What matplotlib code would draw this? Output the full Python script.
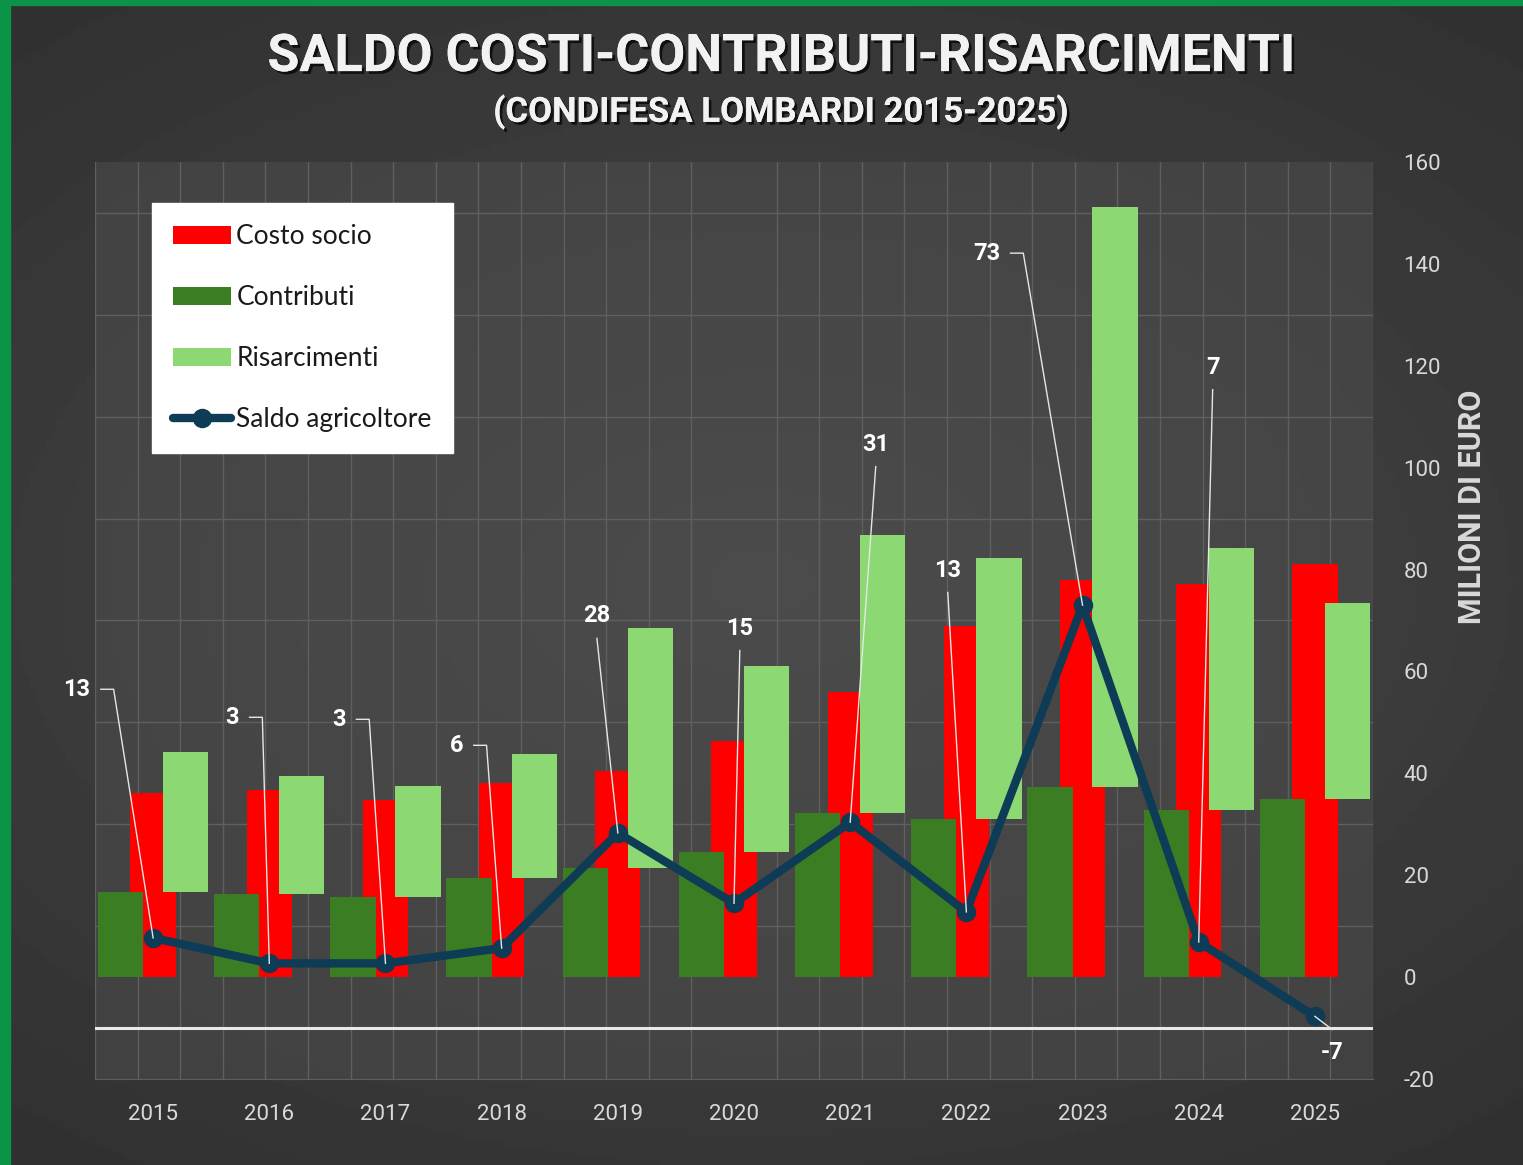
import numpy as np
import matplotlib.pyplot as plt
import matplotlib.patheffects as pe
from matplotlib.patches import Rectangle

# Dati (milioni di euro)
anni = ['2015', '2016', '2017', '2018', '2019', '2020', '2021', '2022', '2023', '2024', '2025']
costo_socio = [36.1, 36.7, 34.7, 38.1, 40.4, 46.3, 55.9, 68.9, 77.9, 77.2, 81.1]
contributi = [16.7, 16.3, 15.7, 19.4, 21.4, 24.5, 32.2, 31.0, 37.3, 32.8, 34.9]
risarcimenti = [27.5, 23.2, 21.8, 24.4, 47.1, 36.6, 54.6, 51.3, 113.9, 51.4, 38.5]
saldo = [7.7, 2.7, 2.7, 5.7, 28.3, 14.5, 30.4, 12.8, 73.0, 6.9, -7.7]
etichette_saldo = ['13', '3', '3', '6', '28', '15', '31', '13', '73', '7', '-7']

# posizione delle etichette (layout): (x, y) del testo e tipo di richiamo
pos_etichette = [(-0.54, 56.5), (0.74, 51.0), (1.66, 50.6), (2.67, 45.5), (3.82, 70.9),
                 (5.05, 68.5), (6.22, 104.6), (6.84, 79.9), (7.29, 142.1), (9.12, 119.7),
                 (10.15, -14.7)]
uncino = [True, True, True, True, False, False, False, False, True, False, False]

ROSSO = '#ff0000'
VERDE_SCURO = '#3a7d22'
VERDE_CHIARO = '#8cd872'
BLU = '#0e3b55'
TESTO = '#d9d9d9'

plt.rcParams['font.family'] = ['Roboto', 'DejaVu Sans']
plt.rcParams['axes.unicode_minus'] = False

fig = plt.figure(figsize=(15.23, 11.65), dpi=100)

# sfondo sfumato
bg = fig.add_axes([0, 0, 1, 1], zorder=-10)
yy, xx = np.mgrid[-1:1:300j, -1:1:300j]
r = np.sqrt((xx * 0.9) ** 2 + (yy * 1.1) ** 2)
grad = 0.29 - 0.10 * np.clip(r, 0, 1.4) / 1.4
bg.imshow(grad, cmap='gray', vmin=0, vmax=1, aspect='auto', extent=[0, 1, 0, 1])
bg.set_axis_off()

# bordo verde
fig.patches.append(Rectangle((0, 0), 0.0066, 1, transform=fig.transFigure, color='#0b9347', zorder=10))
fig.patches.append(Rectangle((0, 0.9957), 1, 0.0043, transform=fig.transFigure, color='#0b9347', zorder=10))

ax = fig.add_axes([0.0624, 0.0738, 0.8391, 0.7872])
ax.set_facecolor((0.30, 0.30, 0.30, 0.55))

x = np.arange(len(anni))
w = 0.39
ax.bar(x, costo_socio, w, color=ROSSO, label='Costo socio', zorder=2)
ax.bar(x - 0.28, contributi, w, color=VERDE_SCURO, label='Contributi', zorder=3)
ax.bar(x + 0.28, risarcimenti, w, bottom=contributi, color=VERDE_CHIARO, label='Risarcimenti', zorder=3)
ax.plot(x, saldo, color=BLU, lw=6, marker='o', ms=13, label='Saldo agricoltore', zorder=5,
        solid_capstyle='round')

ax.axhline(-10, color='#e8e8e8', lw=2.2, zorder=4)

# etichette con linee di richiamo
for i, (lab, (tx, ty), hook) in enumerate(zip(etichette_saldo, pos_etichette, uncino)):
    kw = dict(color='white', fontsize=17, fontweight='bold', zorder=7)
    if hook:
        ax.text(tx, ty, lab, ha='right', va='center', **kw)
        x0, x1 = tx + 0.09, tx + 0.20
        ax.plot([x0, x1, x[i]], [ty, ty, saldo[i]], color='#e6e6e6', lw=1, zorder=6)
    else:
        ax.text(tx, ty, lab, ha='center', va='center', **kw)
        dy = -4.4 if ty > saldo[i] else 4.4
        ax.plot([tx, x[i]], [ty + dy, saldo[i]], color='#e6e6e6', lw=1, zorder=6)

ax.set_xlim(-0.5, 10.5)
ax.set_ylim(-20, 160)
ax.set_xticks(x)
ax.set_xticklabels(anni)
ax.set_yticks(np.arange(-20, 161, 20))
ax.set_yticks(np.arange(-20, 161, 10), minor=True)
ax.set_xticks(np.linspace(-0.5, 10.5, 31), minor=True)
ax.yaxis.tick_right()
ax.tick_params(axis='both', which='both', length=0, colors=TESTO, labelsize=16)
ax.tick_params(axis='x', pad=18)
ax.tick_params(axis='y', pad=22)
ax.grid(which='minor', color='#5f5f5f', lw=1, zorder=0)
ax.set_axisbelow(True)
for s in ax.spines.values():
    s.set_visible(False)
ax.spines['bottom'].set_visible(True)
ax.spines['bottom'].set_color('#5f5f5f')

fig.text(0.9665, 0.565, 'MILIONI DI EURO', rotation=90, ha='center', va='center',
         color=TESTO, fontsize=22, fontweight='bold')

ombra = [pe.withSimplePatchShadow(offset=(2, -2), shadow_rgbFace='black', alpha=0.7), pe.Normal()]
fig.text(0.513, 0.951, 'SALDO COSTI-CONTRIBUTI-RISARCIMENTI', ha='center', va='center',
         color='#f2f2f2', fontsize=37.5, fontweight='bold', path_effects=ombra)
fig.text(0.513, 0.904, '(CONDIFESA LOMBARDI 2015-2025)', ha='center', va='center',
         color='#f2f2f2', fontsize=25, fontweight='bold', path_effects=ombra)

h, l = ax.get_legend_handles_labels()
nomi = ['Costo socio', 'Contributi', 'Risarcimenti', 'Saldo agricoltore']
handles = [h[l.index(n)] for n in nomi]
leg = ax.legend(handles, nomi,
                loc='upper left', bbox_to_anchor=(0.0446, 0.955), borderaxespad=0,
                frameon=True, fancybox=False, facecolor='white', edgecolor='white',
                framealpha=1, labelspacing=1.36, handlelength=2.2,
                handletextpad=0.2, borderpad=0.8, prop={'family': 'Lato', 'size': 19})
for t in leg.get_texts():
    t.set_color('#1a1a1a')
leg.set_zorder(8)

fig.savefig('out.png', dpi=100)
